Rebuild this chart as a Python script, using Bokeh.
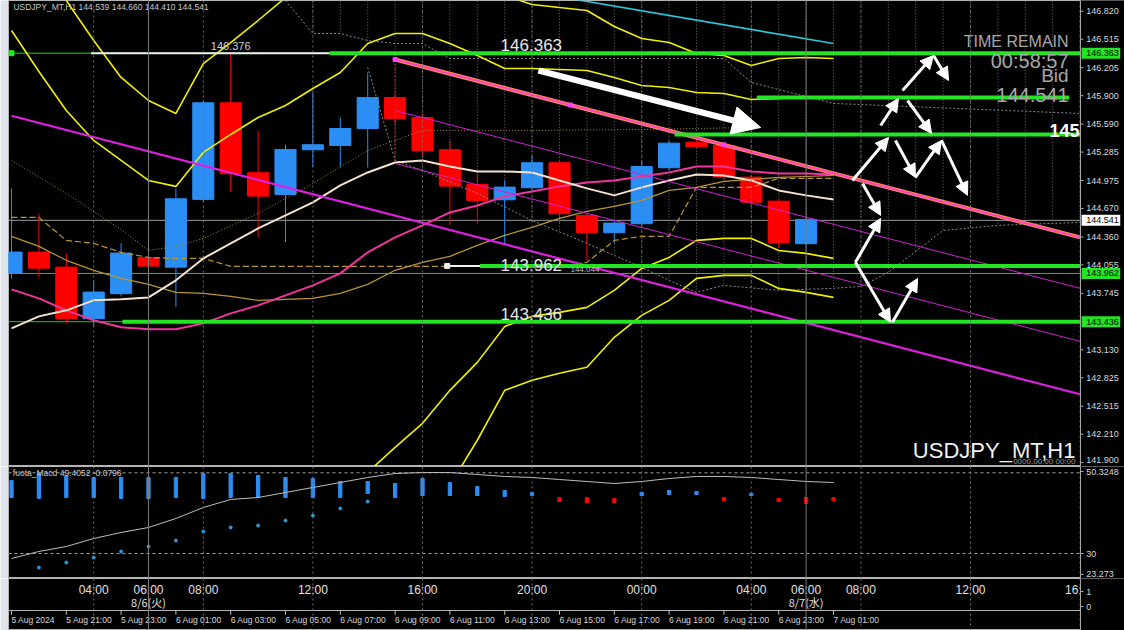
import numpy as np
from bokeh.plotting import figure
from bokeh.models import (Range1d, Arrow, NormalHead, Span, ColumnDataSource)
from bokeh.layouts import column
from bokeh.core.properties import value
from bokeh.embed import file_html
from bokeh.resources import INLINE

# ---------------- DATA ----------------
# hourly bars; index 0 = 5 Aug 19:00 (server time)
bar_idx = list(range(30))
opens  = [143.966,144.195,144.031,143.469,143.742,144.134,144.031,144.769,145.822,145.060,
          144.823,145.310,145.357,145.542,145.880,145.662,145.310,144.932,144.765,144.896,
          145.169,144.594,144.406,144.504,145.114,145.393,145.357,145.012,144.750,144.286]
highs  = [144.889,144.613,144.177,143.886,144.293,144.170,144.885,145.847,146.376,145.520,
          145.368,145.935,145.662,146.152,145.920,145.700,145.412,145.050,144.980,145.247,
          145.200,144.620,144.540,145.190,145.410,145.420,145.380,145.030,144.770,144.580]
lows   = [143.908,143.922,143.415,143.378,143.712,144.020,143.596,144.736,144.848,144.358,
          144.304,145.121,145.117,145.117,145.600,145.250,144.486,144.500,144.290,144.870,
          144.507,144.104,144.290,144.480,145.080,145.330,144.980,144.700,144.250,144.270]
closes = [144.195,144.020,143.469,143.759,144.184,144.042,144.776,145.822,145.049,144.805,
          145.314,145.365,145.542,145.880,145.651,145.303,144.914,144.758,144.903,145.169,
          144.613,144.406,144.511,145.128,145.382,145.346,145.012,144.739,144.297,144.551]

ind_idx = list(range(31))
bb2_upper = [146.610,146.163,145.738,145.412,145.194,144.976,144.911,145.281,145.477,145.662,
             145.793,145.978,146.152,146.468,146.577,146.577,146.468,146.338,146.196,146.196,
             146.185,146.174,146.098,146.011,145.989,145.935,145.924,145.858,145.869,145.880,145.880]
bb3_upper = [147.699,147.318,146.937,146.501,146.098,145.847,145.706,146.250,146.479,146.719,
             146.969,147.209,147.372,147.481,147.481,147.427,147.318,147.154,146.991,146.893,
             146.860,146.828,146.653,146.523,146.479,146.359,146.338,146.229,146.305,146.316,146.305]
bb2_lower = [140.837,140.673,140.510,140.401,140.292,140.237,140.183,140.401,140.619,140.837,
             141.054,141.327,141.545,141.795,142.067,142.329,142.688,142.993,143.385,143.494,
             143.538,143.592,143.778,144.017,144.137,144.323,144.344,144.344,144.213,144.181,144.126]
bb3_lower = [139.312,139.094,138.876,138.767,138.658,138.604,138.549,138.767,139.094,139.420,
             139.747,140.074,140.401,140.673,141.000,141.327,141.653,142.144,142.688,142.797,
             142.874,142.939,143.266,143.505,143.669,143.908,143.941,143.941,143.799,143.756,143.701]
cream_ma = [143.364,143.494,143.560,143.669,143.680,143.701,143.887,144.126,144.290,144.453,
            144.595,144.737,144.921,145.063,145.172,145.194,145.128,145.074,145.074,145.063,
            144.976,144.889,144.813,144.900,144.976,145.041,145.030,144.976,144.867,144.813,144.769]
pink_ma = [143.789,143.690,143.560,143.451,143.375,143.353,143.353,143.418,143.527,143.614,
           143.723,143.832,143.963,144.192,144.355,144.486,144.627,144.703,144.802,144.856,
           144.911,144.954,144.976,145.019,145.063,145.128,145.128,145.074,145.052,145.052,145.041]
gold_solid = [144.366,144.257,144.105,143.996,143.908,143.843,143.756,143.745,143.712,143.669,
              143.680,143.690,143.745,143.843,143.996,144.083,144.148,144.268,144.377,144.464,
              144.562,144.638,144.693,144.758,144.867,144.900,144.965,144.987,145.009,145.019,145.030]
gold_dash = [144.573,144.573,144.322,144.290,144.192,144.137,144.126,144.126,144.039,144.039,
             144.039,144.039,144.039,144.039,144.039,144.039,144.039,144.039,144.039,144.039,
             144.039,144.083,144.322,144.366,144.366,144.900,144.900,144.900,144.998,144.998,144.998]

dk1_idx = [0, 2, 4, 5, 6, 7, 9, 11, 13, 15, 19, 23, 27]
dk1 = [145.194,144.834,144.442,144.213,144.257,144.344,144.616,144.943,145.303,145.521,145.521,145.531,145.553]
dg1_idx = [10, 11, 12, 13, 14, 15, 16, 20, 26, 27, 30, 39]
dg1 = [146.937,146.577,146.577,146.501,146.468,146.468,146.305,146.305,146.305,146.043,145.815,145.706]
dg2_idx = [13, 14, 15, 17, 19, 21, 23, 24, 25, 26, 28, 30, 31, 32, 34, 36, 39]
dg2 = [146.207,145.194,145.085,144.834,144.540,144.290,144.028,143.887,143.756,143.832,
       143.778,143.800,143.821,143.974,144.431,144.486,144.518]
kumo_idx = list(range(11, 40))

chan_x = [14, 39]
chan_upper = [146.294, 144.355]
chan_mid = [145.738, 143.800]
chan_low = [145.161, 143.222]
chan_dots_x = [14, 20.4, 26]
long_x = [0, 39]
long_trend = [145.681, 142.645]
cyan_x = [20, 30]
cyan_line = [146.978, 146.468]

thin_levels = [146.363, 143.962, 143.436]
thick_lv_x0 = [11.6, 27.2, 24.2, 17.1, 4.05]
thick_lv_x1 = [39.0, 38.6, 39.0, 39.0, 39.0]
thick_lv_y = [146.363, 145.880, 145.477, 144.044, 143.436]
white_lv_x0 = [2.9, 15.9]
white_lv_x1 = [11.6, 17.1]
white_lv_y = [146.363, 144.044]
bid = 144.541

big_arrow = (19.23, 146.174, 27.34, 145.553)
zig_x0 = [30.69, 31.72, 32.52, 33.65, 32.70, 32.26, 32.99, 33.94, 30.80, 31.06, 30.80, 32.15]
zig_y0 = [144.976,145.575,145.956,146.338,145.847,145.412,145.009,145.412,144.083,144.943,144.083,143.429]
zig_x1 = [32.01, 32.37, 33.65, 34.20, 33.58, 32.99, 33.94, 34.89, 31.72, 31.72, 32.08, 33.07]
zig_y1 = [145.444,145.869,146.338,146.065,145.488,145.009,145.412,144.813,144.562,144.595,143.429,143.908]

price_ticks = [146.820,146.515,146.205,145.900,145.590,145.285,144.975,144.670,144.360,
               144.055,143.745,143.130,142.825,142.515,142.210,141.900]
price_boxes = [146.363, 143.962, 143.436, 144.541]
price_box_colors = ["#22e622", "#22e622", "#22e622", "#ffffff"]

# MACD-like sub window
macd_idx = list(range(31))
hist_top = [48.09,49.83,49.33,48.84,48.84,48.84,48.84,49.83,49.83,49.33,48.84,48.59,47.85,47.85,47.35,
            48.59,47.60,46.61,45.62,45.12,43.88,43.88,43.63,45.12,45.62,45.37,43.88,44.87,43.63,43.88,43.88]
hist_bot = [43.88,43.63,43.88,43.88,43.63,43.63,43.88,43.63,43.88,43.88,43.88,43.88,43.88,44.87,43.88,
            44.38,44.38,44.38,44.13,44.38,42.89,42.64,42.64,44.38,44.62,44.62,43.14,44.38,42.89,42.39,43.14]
hist_up = [1]*15 + [1,1,1,1,1,0,0,0,1,1,1,0,1,0,0,0]
signal = [28.76,30.50,31.74,33.72,35.21,36.45,38.68,41.40,43.39,43.88,45.12,46.36,47.60,48.84,49.83,
          50.08,50.08,49.58,49.09,48.84,48.34,47.85,47.35,47.85,48.59,49.09,49.09,48.84,48.34,47.85,47.60]
dot_idx = list(range(1, 14))
dots = [26.53,27.77,29.01,30.50,31.74,33.22,35.45,36.45,36.94,38.18,39.42,41.16,42.89]
macd_levels = [50, 30]
macd_tick_labels = ["50.3248", "30", "23.273"]
macd_tick_pos = [50.3248, 30, 24.8]

# time labels
jst_idx = [3, 5, 7, 11, 15, 19, 23, 27, 29, 31, 35, 39]
jst_labels = ["04:00", "06:00", "08:00", "12:00", "16:00", "20:00", "00:00", "04:00", "06:00", "08:00", "12:00", "16:00"]
day_idx = [5, 29]
day_labels = ["8/6(火)", "8/7(水)"]
date_idx = list(range(0, 31, 2))
date_labels = ["5 Aug 2024", "5 Aug 21:00", "5 Aug 23:00", "6 Aug 01:00", "6 Aug 03:00", "6 Aug 05:00",
               "6 Aug 07:00", "6 Aug 09:00", "6 Aug 11:00", "6 Aug 13:00", "6 Aug 15:00", "6 Aug 17:00",
               "6 Aug 19:00", "6 Aug 21:00", "6 Aug 23:00", "7 Aug 01:00"]
grid_dotted_idx = [3, 7, 11, 15, 19, 23, 27, 31, 35, 39]
day_sep_idx = [5, 29]

# ---------------- STYLE / FIGURES ----------------
BG = "black"
W = 1124
FONT = "Liberation Sans"
TF = value(FONT)
AX = 39.015          # position of the price scale line (bar units)
XR = (-0.1095, 40.62)
X_RANGE = Range1d(*XR)
BULL = "#2b8ef5"
BEAR = "#ff0000"


def base_fig(height, y_range):
    f = figure(width=W, height=height, x_range=X_RANGE, y_range=y_range,
               output_backend="svg", toolbar_location=None,
               x_axis_location=None, y_axis_location=None,
               background_fill_color=BG, border_fill_color="#dfe4ec",
               min_border_left=8, min_border_right=0, min_border_top=0, min_border_bottom=0)
    f.xgrid.visible = False
    f.ygrid.visible = False
    f.outline_line_color = "#b4b4b4"
    for gi in grid_dotted_idx:
        f.add_layout(Span(location=gi, dimension="height", line_color="#6f6f6f",
                          line_dash="2 3", line_width=1))
    for gi in day_sep_idx:
        f.add_layout(Span(location=gi, dimension="height", line_color="#7a7a7a", line_width=1))
    return f


def price_scale(f, ypos, labels, offsets=None):
    yr = f.y_range
    if offsets is None:
        offsets = [0] * len(ypos)
    f.quad(left=[AX], right=[XR[1] + 1], bottom=[yr.start - 10], top=[yr.end + 10],
           fill_color=BG, line_color=None)
    f.add_layout(Span(location=AX, dimension="height", line_color="#a8a8a8", line_width=1))
    f.segment(x0=[AX] * len(ypos), y0=ypos, x1=[AX + 0.11] * len(ypos), y1=ypos,
              line_color="#a8a8a8", line_width=1)
    f.text(x=[AX + 0.21] * len(ypos), y=ypos, text=labels, text_font=TF, y_offset=offsets,
           text_font_size=value("9px"), text_color="#d8d8d8", text_baseline="middle")


# ---- main price window ----
p = base_fig(466, Range1d(141.858, 146.937))

kumo_edge_x = dg1_idx[1:4] + dg2_idx[1:]
kumo_edge_y = dg1[1:4] + dg2[1:]
kumo_bottom = list(np.interp(kumo_idx, kumo_edge_x, kumo_edge_y))
p.segment(x0=kumo_idx, y0=[147.0] * len(kumo_idx), x1=kumo_idx, y1=kumo_bottom,
          line_color="#707070", line_dash="1 2", line_width=1)

# bid line and thin full-width levels
p.segment(x0=[XR[0]], y0=[bid], x1=[AX], y1=[bid], line_color="#9a9a9a", line_width=1)
p.segment(x0=[XR[0]] * 3, y0=thin_levels, x1=[AX] * 3, y1=thin_levels,
          line_color="#19d219", line_width=1)

# candles
src = ColumnDataSource(dict(
    x=bar_idx, h=highs, l=lows,
    top=[max(a, b) for a, b in zip(opens, closes)],
    bot=[min(a, b) for a, b in zip(opens, closes)],
    col=[BULL if c >= o else BEAR for o, c in zip(opens, closes)]))
p.segment(x0="x", y0="h", x1="x", y1="l", line_color="col", line_width=1, source=src)
p.vbar(x="x", width=0.77, top="top", bottom="bot", fill_color="col", line_color="col", source=src)

# dotted / dashed indicator lines
p.line(dk1_idx, dk1, line_color="#a08c3c", line_dash="1 2", line_width=1)
p.line(dg1_idx, dg1, line_color="#8a8a8a", line_dash="2 2", line_width=1)
p.line(dg2_idx, dg2, line_color="#8a8a8a", line_dash="2 2", line_width=1)
p.line(ind_idx, gold_dash, line_color="#b8962e", line_dash="6 3", line_width=1.2)
p.line(ind_idx, gold_solid, line_color="#b8962e", line_width=1.2)

# bands and MAs
for arr in (bb2_upper, bb3_upper, bb2_lower, bb3_lower):
    p.line(ind_idx, arr, line_color="#f0f000", line_width=1.6)
p.line(ind_idx, pink_ma, line_color="#f0359c", line_width=2)
p.line(ind_idx, cream_ma, line_color="#f6e2cf", line_width=2)

# channel / trend lines
p.line(cyan_x, cyan_line, line_color="#2ac8d8", line_width=1.6)
p.line(long_x, long_trend, line_color="#e020e0", line_width=2.2)
p.line(chan_x, chan_mid, line_color="#d020d0", line_width=1)
p.line(chan_x, chan_low, line_color="#d020d0", line_width=1)
p.line(chan_x, chan_upper, line_color="#ff9040", line_width=4)
p.line(chan_x, chan_upper, line_color="#ff40c8", line_width=2)
p.segment(x0=[chan_x[0]], y0=[chan_upper[0]], x1=[chan_x[0]], y1=[chan_low[0]],
          line_color="#d03030", line_dash="2 2", line_width=1)
p.scatter(chan_dots_x, list(np.interp(chan_dots_x, chan_x, chan_upper)),
          marker="square", size=4, color="#ff40ff")

# thick green levels and white segments
p.segment(x0=white_lv_x0, y0=white_lv_y, x1=white_lv_x1, y1=white_lv_y,
          line_color="#f0f0f0", line_width=2)
p.segment(x0=thick_lv_x0, y0=thick_lv_y, x1=thick_lv_x1, y1=thick_lv_y,
          line_color="#22e622", line_width=4)
p.scatter([0.0, white_lv_x0[1]], white_lv_y, marker="square", size=5,
          color=["#22e622", "#f0f0f0"])

# texts
p.text(x=[0.07], y=[146.925], text=["USDJPY_MT,H1  144.539 144.660 144.410 144.541"],
       text_font=TF, text_font_size=value("8.5px"), text_color="#c8c8c8", text_baseline="top")
p.text(x=[8], y=[highs[8]], text=["146.376"], text_font=TF, text_font_size=value("11px"),
       text_color="#d0d0d0", text_align="center", text_baseline="bottom", y_offset=-2)
p.text(x=[17.85] * 3, y=thin_levels, text=[f"{v:.3f}" for v in thin_levels],
       text_font=TF, text_font_size=value("17px"), text_color="#e8e8e8", text_baseline="bottom", y_offset=-2)
p.text(x=[20.4], y=[thick_lv_y[3]], text=["144.044"], text_font=TF, text_font_size=value("8px"),
       text_color="#c0c0c0", text_baseline="top", y_offset=1)
p.text(x=[38.58], y=[146.490], text=["TIME REMAIN"], text_font=TF, text_font_size=value("16px"),
       text_color="#a8a8a8", text_align="right", text_baseline="middle")
p.text(x=[38.58], y=[146.278], text=["00:58:57"], text_font=TF, text_font_size=value("20px"),
       text_color="#a8a8a8", text_align="right", text_baseline="middle")
p.text(x=[38.58], y=[146.125], text=["Bid"], text_font=TF, text_font_size=value("19px"),
       text_color="#a8a8a8", text_align="right", text_baseline="middle")
p.text(x=[38.58], y=[145.907], text=[f"{bid:.3f}"], text_font=TF, text_font_size=value("20px"),
       text_color="#a8a8a8", text_align="right", text_baseline="middle")
p.text(x=[38.98], y=[145.521], text=["145"], text_font=TF, text_font_size=value("18px"),
       text_font_style="bold", text_color="white", text_align="right", text_baseline="middle")
p.text(x=[38.83], y=[142.035], text=["USDJPY_MT,H1"], text_font=TF, text_font_size=value("22px"),
       text_color="#f0f0f0", text_align="right", text_baseline="middle")
p.text(x=[38.83], y=[141.91], text=["0000.00.00 00:00"], text_font=TF, text_font_size=value("8px"),
       text_color="#9a9a9a", text_align="right", text_baseline="middle")

# arrows
p.add_layout(Arrow(x_start=big_arrow[0], y_start=big_arrow[1], x_end=big_arrow[2], y_end=big_arrow[3],
                   line_color="white", line_width=6,
                   end=NormalHead(size=28, fill_color="white", line_color="white")))
for a, b_, c, d in zip(zig_x0, zig_y0, zig_x1, zig_y1):
    p.add_layout(Arrow(x_start=a, y_start=b_, x_end=c, y_end=d, line_color="white", line_width=3,
                       end=NormalHead(size=13, fill_color="white", line_color="white")))

# price scale with coloured boxes
price_scale(p, price_ticks, [f"{v:.3f}" for v in price_ticks],
            offsets=[0] * (len(price_ticks) - 1) + [-3])
BOX_H = 0.06
p.quad(left=[AX + 0.04] * 4, right=[AX + 1.45] * 4,
       bottom=[v - BOX_H for v in price_boxes], top=[v + BOX_H for v in price_boxes],
       fill_color=price_box_colors, line_color=None)
p.text(x=[AX + 0.21] * 4, y=price_boxes, text=[f"{v:.3f}" for v in price_boxes], text_font=TF,
       text_font_size=value("9px"), text_color="black", text_baseline="middle")

# ---- MACD window ----
m = base_fig(112, Range1d(23.807, 51.564))
m.segment(x0=[XR[0]] * 2, y0=macd_levels, x1=[AX] * 2, y1=macd_levels,
          line_color="#a0a0a0", line_dash="3 3", line_width=1)
m.vbar(x=macd_idx, width=0.12, top=hist_top, bottom=hist_bot,
       color=[BULL if u else BEAR for u in hist_up])
m.line(macd_idx, signal, line_color="#bdbdbd", line_width=1)
m.scatter(dot_idx, dots, size=3, color="#2a9cd8")
m.text(x=[0.05], y=[51.3], text=["fuota_Macd 49.4052  -0.0796"], text_font=TF,
       text_font_size=value("8.5px"), text_color="#c8c8c8", text_baseline="top")
price_scale(m, macd_tick_pos, macd_tick_labels)

# ---- bottom window (time labels) ----
b = base_fig(52, Range1d(-1.6, 1.867))
b.segment(x0=[XR[0]], y0=[-0.267], x1=[AX], y1=[-0.267], line_color="#b4b4b4", line_width=1)
b.text(x=jst_idx, y=[1.07] * len(jst_idx), text=jst_labels, text_font=TF,
       text_font_size=value("12px"), text_color="#e0e0e0", text_align="center", text_baseline="middle")
b.text(x=day_idx, y=[0.27] * len(day_idx), text=day_labels, text_font=value("Noto Sans CJK JP"),
       text_font_size=value("11px"), text_color="#e0e0e0", text_align="center", text_baseline="middle")
b.segment(x0=date_idx, y0=[-0.267] * len(date_idx), x1=date_idx, y1=[-0.55] * len(date_idx),
          line_color="#c0c0c0", line_width=1)
b.text(x=date_idx, y=[-0.9] * len(date_idx), text=date_labels, text_font=TF,
       text_font_size=value("8.5px"), text_color="#d8d8d8", text_align="left", text_baseline="middle")
price_scale(b, [1, 0], ["1", "0"])

layout = column(p, m, b, spacing=0)
open("out.html", "w").write(file_html(layout, INLINE))
